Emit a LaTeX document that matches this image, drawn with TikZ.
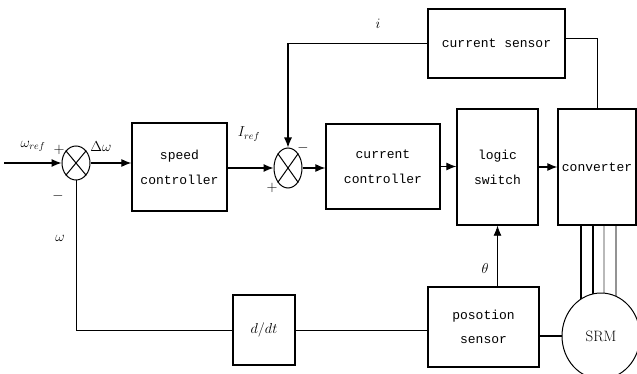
\documentclass[tikz,border=0pt]{standalone}
\usepackage{fontspec}
\setmonofont{Liberation Mono}
\usetikzlibrary{shapes.geometric,arrows.meta,backgrounds}
\begin{document}
\begin{tikzpicture}[x=1pt,y=-1pt,
  blk/.style={draw,line width=1.3pt,rectangle,inner sep=0pt,align=center,font=\ttfamily\fontsize{13}{16}\selectfont},
  sumj/.style={draw,line width=1pt,ellipse,inner sep=0pt},
  wire/.style={line width=1pt},
  arr/.style={line width=1.1pt,-{Latex[length=10pt,width=8pt]}},
  lbl/.style={inner sep=0pt,font=\fontsize{14}{16}\selectfont}]
\useasboundingbox (0,0) rectangle (637,374);
% nodes
\node[sumj,minimum width=28pt,minimum height=34pt] (s1) at (76,163) {};
\node[sumj,minimum width=28pt,minimum height=40pt] (s2) at (288,168) {};
\node[blk,minimum width=95pt,minimum height=88pt] (speed) at (179.5,167) {speed\\[9pt]controller};
\node[blk,minimum width=114pt,minimum height=85pt] (cc) at (383,166.5) {current\\[9pt]controller};
\node[blk,minimum width=81pt,minimum height=116pt] (logic) at (497.5,167) {logic\\[9pt]switch};
\node[blk,minimum width=78pt,minimum height=116pt] (conv) at (597,167) {converter};
\node[blk,minimum width=137pt,minimum height=69pt] (cs) at (496.5,43.5) {current sensor};
\node[blk,minimum width=111pt,minimum height=80pt] (ps) at (483.5,327) {posotion\\[8pt]sensor};
\node[blk,minimum width=62pt,minimum height=70pt,font=\fontsize{14}{16}\selectfont] (ddt) at (264,330) {$d/dt$};
\node[draw,line width=1pt,ellipse,fill=white,inner sep=0pt,minimum width=78pt,minimum height=86pt,font=\fontsize{15}{17}\selectfont] (srm) at (601,336) {SRM};
\coordinate (in) at (4,163);
% crosses in summing junctions
\draw[wire] (s1.north west) -- (s1.south east) (s1.north east) -- (s1.south west);
\draw[wire] (s2.north west) -- (s2.south east) (s2.north east) -- (s2.south west);
% connectors
\draw[arr] (in) -- (s1.west);
\draw[arr] (s1.east) -- (speed.west |- s1.east);
\draw[arr] (speed.east |- s2.west) -- (s2.west);
\draw[arr] (s2.east) -- (cc.west |- s2.east);
\draw[arr] (cc.east) -- (logic.west |- cc.east);
\draw[arr] (logic.east) -- (conv.west);
\draw[arr] (cs.west) -| (s2.north);
\draw[wire] ([yshift=5pt]cs.east) -| (conv.north);
\draw[arr,line width=0.8pt] (logic.south |- ps.north) -- (logic.south);
\draw[wire,line width=1.5pt] (ps.east |- srm.west) -- (srm.west);
\draw[wire] (ps.west |- ddt.east) -- (ddt.east);
\draw[wire] (ddt.west) -| (s1.south);
\begin{pgfonlayer}{background}
\draw[line width=1.3pt] (conv.south -| 581,0) -- (srm.center -| 581,0);
\draw[line width=1.3pt] (conv.south -| 593,0) -- (srm.center -| 593,0);
\draw[line width=1.3pt,gray!55] (conv.south -| 604,0) -- (srm.center -| 604,0);
\draw[line width=1.3pt,gray!85] (conv.south -| 616,0) -- (srm.center -| 616,0);
\end{pgfonlayer}
% labels
\node[lbl] (lwref) at (33,146) {$\omega_{ref}$};
\node[lbl] (lp1) at (59,150) {$+$};
\node[lbl] (lm1) at (58,196) {$-$};
\node[lbl] (ldw) at (101,147) {$\Delta\omega$};
\node[lbl] (lw) at (60,238) {$\omega$};
\node[lbl] (liref) at (249,134) {$I_{ref}$};
\node[lbl] (lp2) at (272,188) {$+$};
\node[lbl] (lm2) at (303,148) {$-$};
\node[lbl] (li) at (378,24) {$i$};
\node[lbl] (lth) at (485,268) {$\theta$};
\end{tikzpicture}
\end{document}
